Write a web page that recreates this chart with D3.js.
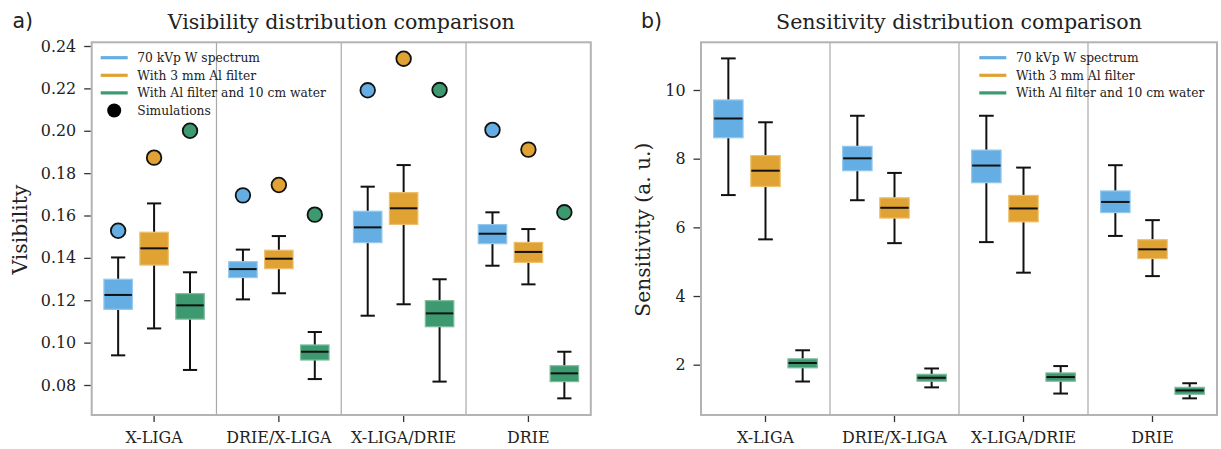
<!DOCTYPE html>
<html>
<head>
<meta charset="utf-8">
<script src="https://cdn.jsdelivr.net/npm/d3@7"></script>
<style>
  html, body { margin: 0; padding: 0; background: #fff; }
  svg { display: block; }
  text { font-family: "DejaVu Serif", serif; fill: #222; }
</style>
</head>
<body>
<svg id="chart" width="1221" height="449"></svg>
<script>
// ---------------- DATA ----------------
const categories = ["X-LIGA", "DRIE/X-LIGA", "X-LIGA/DRIE", "DRIE"];
const seriesNames = ["70 kVp W spectrum", "With 3 mm Al filter", "With Al filter and 10 cm water"];

// Visibility boxes: [whiskerLow, q1, median, q3, whiskerHigh] per category
const visBlue   = [[0.0940, 0.1157, 0.1225, 0.1299, 0.1402], [0.1204, 0.1307, 0.1347, 0.1382, 0.1439], [0.1127, 0.1472, 0.1544, 0.1620, 0.1736], [0.1363, 0.1467, 0.1514, 0.1557, 0.1615]];
const visOrange = [[0.1067, 0.1366, 0.1445, 0.1521, 0.1657], [0.1233, 0.1349, 0.1396, 0.1436, 0.1503], [0.1181, 0.1558, 0.1634, 0.1708, 0.1838], [0.1275, 0.1379, 0.1428, 0.1473, 0.1536]];
const visGreen  = [[0.0871, 0.1111, 0.1176, 0.1231, 0.1332], [0.0828, 0.0918, 0.0957, 0.0989, 0.1050], [0.0816, 0.1075, 0.1138, 0.1198, 0.1299], [0.0737, 0.0816, 0.0855, 0.0891, 0.0957]];
// Simulated visibility (circles)
const simBlue   = [0.1528, 0.1695, 0.2191, 0.2004];
const simOrange = [0.1873, 0.1744, 0.2340, 0.1911];
const simGreen  = [0.2000, 0.1604, 0.2192, 0.1615];

// Sensitivity boxes
const senBlue   = [[6.94, 8.61, 9.17, 9.71, 10.92], [6.79, 7.65, 8.01, 8.36, 9.25], [5.57, 7.30, 7.80, 8.25, 9.25], [5.75, 6.43, 6.74, 7.06, 7.81]];
const senOrange = [[5.65, 7.19, 7.65, 8.09, 9.06], [5.54, 6.27, 6.57, 6.86, 7.585], [4.68, 6.16, 6.55, 6.93, 7.74], [4.58, 5.09, 5.36, 5.64, 6.21]];
const senGreen  = [[1.51, 1.91, 2.05, 2.17, 2.42], [1.34, 1.52, 1.62, 1.72, 1.89], [1.16, 1.52, 1.64, 1.76, 1.96], [1.02, 1.14, 1.25, 1.34, 1.46]];

const visTicks = [0.08, 0.10, 0.12, 0.14, 0.16, 0.18, 0.20, 0.22, 0.24];
const senTicks = [2, 4, 6, 8, 10];

// ---------------- STYLE ----------------
const colors = ["#64aee4", "#e0a232", "#3d9a70"];
const edgeColors = ["#94c8ee", "#ecc070", "#7cbb9c"];

const svg = d3.select("#chart");

function fitFont(sel, target) {
  const n = sel.node();
  const fs = parseFloat(sel.attr("font-size"));
  const w = n.getComputedTextLength();
  if (w > 0) sel.attr("font-size", (fs * target / w).toFixed(2));
}

function panel(opts) {
  const g = svg.append("g");
  const x = d3.scaleBand().domain(categories).range([opts.left, opts.right]).paddingInner(0).paddingOuter(0);
  const y = d3.scaleLinear().domain(opts.yDomain).range([opts.bottom, opts.top]);
  const bw = x.bandwidth();
  const boxW = 0.228 * bw;
  const offs = [-0.288 * bw, 0, 0.288 * bw];

  // separators
  g.selectAll("line.sep").data(categories.slice(1)).join("line")
    .attr("x1", d => x(d)).attr("x2", d => x(d))
    .attr("y1", opts.top).attr("y2", opts.bottom)
    .attr("stroke", "#a9a9a9").attr("stroke-width", 1.2);

  // boxes
  opts.boxes.forEach((series, si) => {
    series.forEach((v, ci) => {
      const cx = x(categories[ci]) + bw / 2 + offs[si];
      const [lo, q1, med, q3, hi] = v;
      const bg = g.append("g");
      bg.append("line").attr("x1", cx).attr("x2", cx).attr("y1", y(lo)).attr("y2", y(q1))
        .attr("stroke", "#111").attr("stroke-width", 2);
      bg.append("line").attr("x1", cx).attr("x2", cx).attr("y1", y(q3)).attr("y2", y(hi))
        .attr("stroke", "#111").attr("stroke-width", 2);
      [lo, hi].forEach(c => bg.append("line")
        .attr("x1", cx - boxW / 4).attr("x2", cx + boxW / 4).attr("y1", y(c)).attr("y2", y(c))
        .attr("stroke", "#111").attr("stroke-width", 2));
      bg.append("rect").attr("x", cx - boxW / 2).attr("width", boxW)
        .attr("y", y(q3)).attr("height", y(q1) - y(q3))
        .attr("fill", colors[si]).attr("stroke", edgeColors[si]).attr("stroke-width", 1.2);
      bg.append("line").attr("x1", cx - boxW / 2 + 0.5).attr("x2", cx + boxW / 2 - 0.5)
        .attr("y1", y(med)).attr("y2", y(med))
        .attr("stroke", "#111").attr("stroke-width", 2);
    });
  });

  // simulation circles
  if (opts.sims) {
    opts.sims.forEach((series, si) => {
      g.selectAll(null).data(series).join("circle")
        .attr("cx", (d, ci) => x(categories[ci]) + bw / 2 + offs[si])
        .attr("cy", d => y(d)).attr("r", 7.3)
        .attr("fill", colors[si]).attr("stroke", "#111").attr("stroke-width", 1.8);
    });
  }

  // spine
  g.append("rect").attr("x", opts.left).attr("y", opts.top)
    .attr("width", opts.right - opts.left).attr("height", opts.bottom - opts.top)
    .attr("fill", "none").attr("stroke", "#b3b3b3").attr("stroke-width", 2);

  // axes
  const ya = g.append("g").attr("transform", `translate(${opts.left - 1},0)`)
    .call(d3.axisLeft(y).tickValues(opts.ticks).tickFormat(opts.fmt).tickSize(6.5).tickPadding(8));
  ya.select(".domain").remove();
  ya.selectAll(".tick line").attr("stroke", "#333").attr("stroke-width", 1.3);
  ya.selectAll(".tick text").attr("font-size", 15.9).attr("font-family", "DejaVu Serif").attr("fill", "#222");

  const xa = g.append("g").attr("transform", `translate(0,${opts.bottom + 1})`)
    .call(d3.axisBottom(x).tickSize(6).tickPadding(10));
  xa.select(".domain").remove();
  xa.selectAll(".tick line").attr("stroke", "#333").attr("stroke-width", 1.3);
  xa.selectAll(".tick text").attr("font-size", 15.9).attr("font-family", "DejaVu Serif").attr("fill", "#222");

  // title
  const t = g.append("text").attr("x", (opts.left + opts.right) / 2).attr("y", 29)
    .attr("text-anchor", "middle").attr("font-size", 19).text(opts.title);
  fitFont(t, opts.titleW);

  // y label
  const yl = g.append("text")
    .attr("transform", `translate(${opts.ylabX},${(opts.top + opts.bottom) / 2 + 1}) rotate(-90)`)
    .attr("text-anchor", "middle").attr("font-size", 20).text(opts.ylabel);
  fitFont(yl, opts.ylabW);

  // panel letter
  g.append("text").attr("x", opts.letterX).attr("y", 28)
    .attr("font-family", "DejaVu Sans, sans-serif").attr("font-size", 20.5)
    .style("font-family", "'DejaVu Sans', sans-serif").attr("fill", "#111")
    .text(opts.letter);

  // legend
  const lg = g.append("g");
  const rows = seriesNames.map((n, i) => ({ name: n, kind: "line", color: colors[i] }));
  if (opts.sims) rows.push({ name: "Simulations", kind: "dot" });
  rows.forEach((r, i) => {
    const yy = 57.7 + i * 17.6;
    if (r.kind === "line") {
      lg.append("line").attr("x1", opts.legX).attr("x2", opts.legX + 27)
        .attr("y1", yy).attr("y2", yy).attr("stroke", r.color).attr("stroke-width", 3.2);
    } else {
      lg.append("circle").attr("cx", opts.legX + 13.5).attr("cy", yy).attr("r", 7).attr("fill", "#000");
    }
    const tt = lg.append("text").attr("x", opts.legX + 36.6).attr("y", yy + 4.3)
      .attr("font-size", 12.5).attr("fill", "#333").text(r.name);
    if (i === 0) {
      fitFont(tt, 122.7);
      opts._legFs = tt.attr("font-size");
    } else {
      tt.attr("font-size", opts._legFs);
    }
  });
}

panel({
  left: 91.7, right: 590.8, top: 42.3, bottom: 415,
  yDomain: [0.08 - 30 / 2118.75, 0.24 + 3.7 / 2118.75],
  boxes: [visBlue, visOrange, visGreen],
  sims: [simBlue, simOrange, simGreen],
  ticks: visTicks, fmt: d3.format(".2f"),
  title: "Visibility distribution comparison", titleW: 347,
  ylabel: "Visibility", ylabX: 27, ylabW: 90,
  letter: "a)", letterX: 12.5,
  legX: 100.7
});

panel({
  left: 701, right: 1217, top: 42.3, bottom: 415,
  yDomain: [2 - 50.3 / 34.3375, 10 + 47.7 / 34.3375],
  boxes: [senBlue, senOrange, senGreen],
  sims: null,
  ticks: senTicks, fmt: d3.format("d"),
  title: "Sensitivity distribution comparison", titleW: 366,
  ylabel: "Sensitivity (a. u.)", ylabX: 650, ylabW: 174,
  letter: "b)", letterX: 641,
  legX: 979.3
});
</script>
</body>
</html>
